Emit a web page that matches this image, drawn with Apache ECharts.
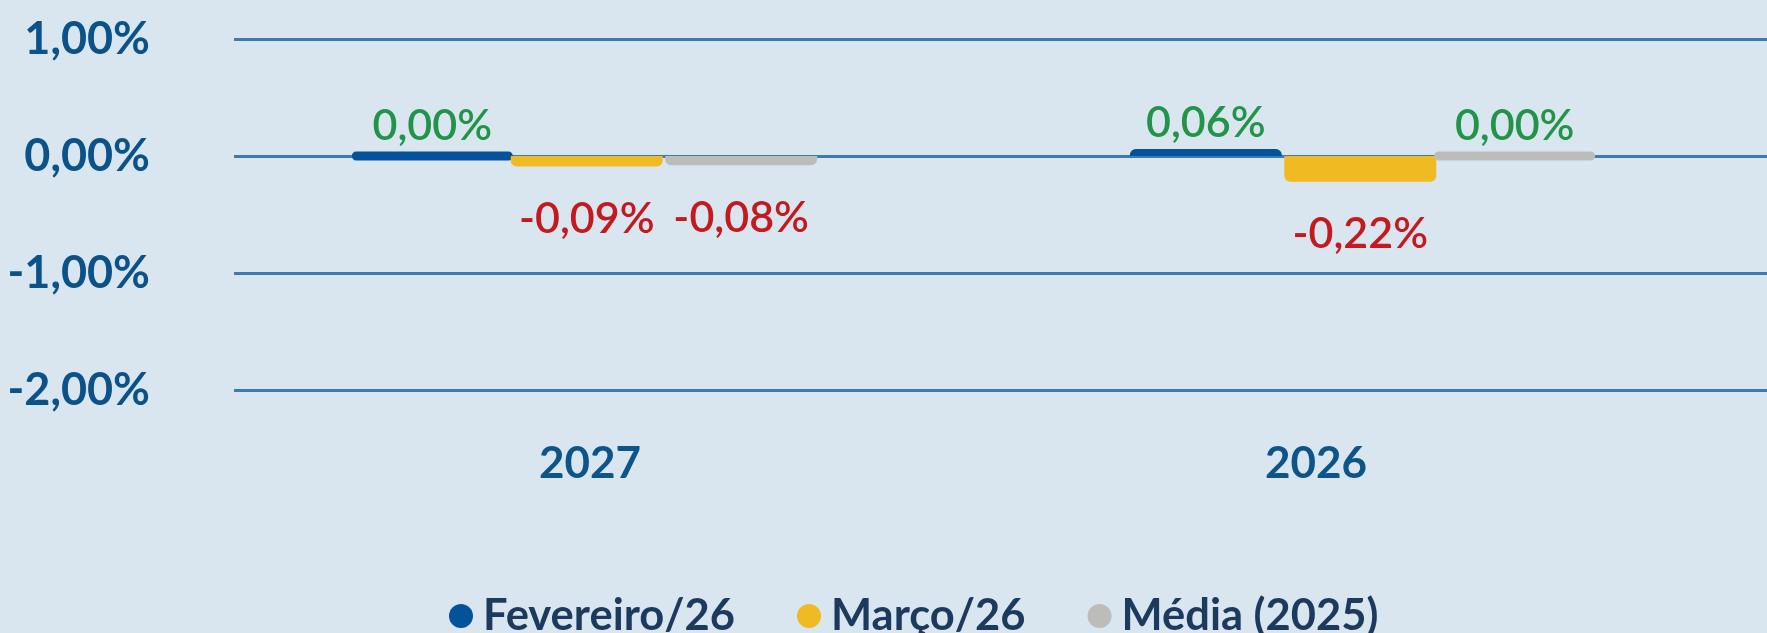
<!DOCTYPE html>
<html>
<head>
<meta charset="utf-8">
<script src="https://cdn.jsdelivr.net/npm/echarts@6/dist/echarts.min.js"></script>
<style>
  html, body { margin: 0; padding: 0; background: #d9e6f0; }
  #chart { width: 1767px; height: 633px; }
</style>
</head>
<body>
<div id="chart"></div>
<script>
// ---- data ----
const categories = ['2027', '2026'];
const seriesNames = ['Fevereiro/26', 'Março/26', 'Média (2025)'];
const fevereiro = [0.00, 0.06];
const marco = [-0.09, -0.22];
const media = [-0.08, 0.00];
const yTickValues = [-2, -1, 0, 1];
const yTickLabels = ['-2,00%', '-1,00%', '0,00%', '1,00%'];

// ---- styles ----
const colors = ['#04539a', '#f0bb22', '#bcbcbb'];
const posColor = '#22944a';
const negColor = '#c21a1f';
const FONT = 'Lato';

const chart = echarts.init(document.getElementById('chart'));

function fmt(v) { return v.toFixed(2).replace('.', ',') + '%'; }

function makeSeries(name, vals, color) {
  return {
    name: name,
    type: 'bar',
    xAxisIndex: 0,
    yAxisIndex: 0,
    barWidth: 152,
    barGap: '1.6%',
    itemStyle: { color: color, borderColor: color, borderJoin: 'round' },
    data: vals.map(v => ({
      value: v,
      itemStyle: v === 0
        ? { borderWidth: 9, borderRadius: 0 }
        : { borderWidth: 0, borderRadius: v < 0 ? [0, 0, 6, 6] : [6, 6, 0, 0] },
      label: {
        position: v < 0 ? 'bottom' : 'top',
        distance: v < 0 ? 31 : 4,
        color: v < 0 ? negColor : posColor
      }
    })),
    label: {
      show: true,
      fontFamily: FONT,
      fontSize: 43,
      fontWeight: 600,
      formatter: p => fmt(p.value)
    },
    emphasis: { disabled: true }
  };
}

const yCommon = { type: 'value', min: -2, max: 1, interval: 1 };

chart.setOption({
  backgroundColor: '#d9e6f0',
  animation: false,
  grid: [
    { left: 200, right: 20, top: 39, bottom: 243 },
    { left: 234, right: 0, top: 39, bottom: 243 },
    { left: 227, right: 88, top: 39, bottom: 243 }
  ],
  xAxis: [
    { gridIndex: 0, type: 'category', data: categories, show: false },
    { gridIndex: 1, type: 'category', data: categories, show: false },
    {
      gridIndex: 2, type: 'category', data: categories,
      axisLine: { show: false }, axisTick: { show: false },
      axisLabel: { color: '#0d5588', fontFamily: FONT, fontWeight: 'bold', fontSize: 44, margin: 52 }
    }
  ],
  yAxis: [
    Object.assign({ gridIndex: 0, show: false }, yCommon),
    Object.assign({
      gridIndex: 1,
      axisLine: { show: false }, axisTick: { show: false },
      splitLine: { show: true, lineStyle: { color: '#3d7ab3', width: 3 } },
      axisLabel: {
        color: '#0a5288', fontFamily: FONT, fontWeight: 'bold', fontSize: 45, margin: 84,
        formatter: v => yTickLabels[yTickValues.indexOf(v)]
      }
    }, yCommon),
    Object.assign({ gridIndex: 2, show: false }, yCommon)
  ],
  legend: {
    left: 444,
    top: 589,
    icon: 'circle',
    itemWidth: 24,
    itemHeight: 24,
    itemGap: 62,
    textStyle: { color: '#1b3a5e', fontFamily: FONT, fontWeight: 'bold', fontSize: 43.5, padding: [0, 0, 0, 5] },
    data: seriesNames
  },
  series: [
    makeSeries(seriesNames[0], fevereiro, colors[0]),
    makeSeries(seriesNames[1], marco, colors[1]),
    makeSeries(seriesNames[2], media, colors[2])
  ]
});
</script>
</body>
</html>
